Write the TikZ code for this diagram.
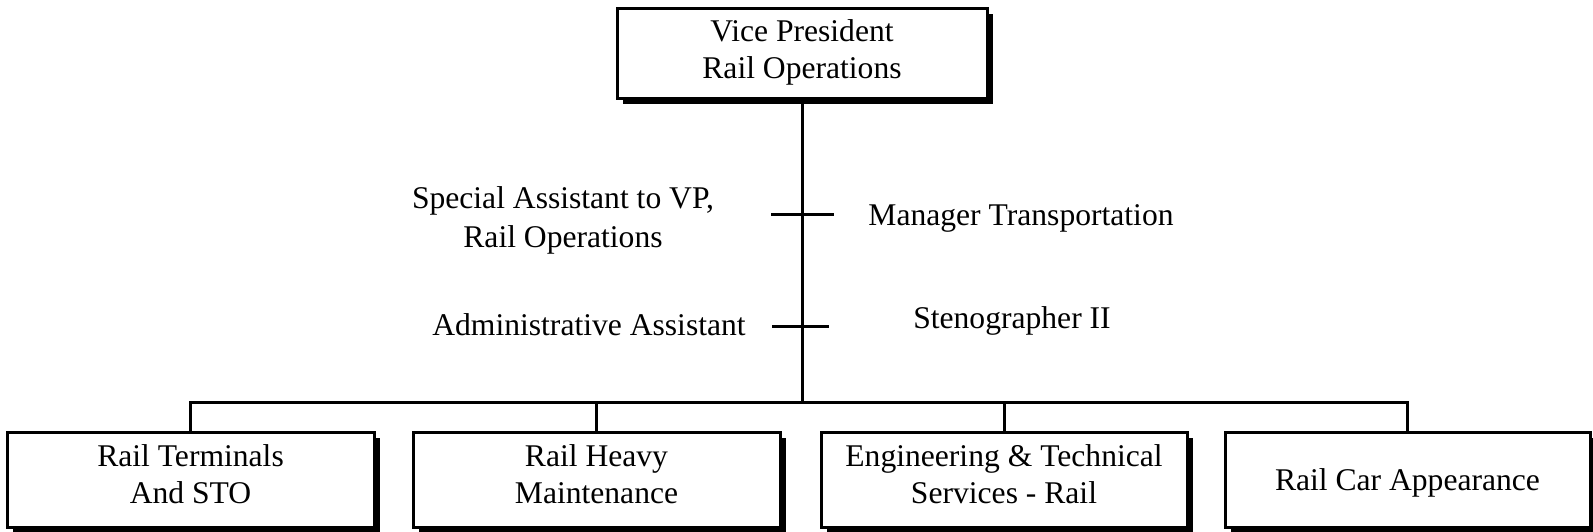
\documentclass[tikz,border=0pt]{standalone}
\usepackage{fontspec}
\setmainfont{Liberation Serif}
\usetikzlibrary{shadows}
\begin{document}
\begin{tikzpicture}[x=1pt,y=-1pt,
  line width=3pt,
  every node/.style={font=\fontsize{31.6}{37.5}\selectfont},
  orgbox/.style={draw, fill=white, inner sep=0pt, align=flush center,
    general shadow={fill=black, shadow xshift=6pt, shadow yshift=-6pt}},
  lbl/.style={inner sep=0pt, anchor=base}]
\useasboundingbox (0,0) rectangle (1593,531);
% boxes
\node[orgbox, text width=370pt, text height=33pt, text depth=57pt] (vp) at (802,53) {Vice President\\Rail Operations};
\node[orgbox, text width=367pt, text height=34pt, text depth=61pt] (b1) at (190.5,479.5) {Rail Terminals\\And STO};
\node[orgbox, text width=367pt, text height=34pt, text depth=61pt] (b2) at (596.5,479.5) {Rail Heavy\\Maintenance};
\node[orgbox, text width=366pt, text height=34pt, text depth=61pt] (b3) at (1004,479.5) {Engineering \& Technical\\Services - Rail};
\node[orgbox, text width=365pt, text height=58pt, text depth=37pt] (b4) at (1407.5,479.5) {Rail Car Appearance};
% staff labels
\node[lbl, text width=330pt, align=flush center, font=\fontsize{31.6}{39}\selectfont] (sa) at (563,208) {Special Assistant to VP,\\Rail Operations};
\node[lbl] (aa) at (589,335) {Administrative Assistant};
\node[lbl] (mt) at (1021,225) {Manager Transportation};
\node[lbl] (st) at (1012,328) {Stenographer II};
% connectors
\coordinate (bus) at (802,402);
\draw (vp.south) -- (bus);
\draw (b1.north) |- (bus) -| (b4.north);
\draw (b2.north) -- (b2.north |- bus);
\draw (b3.north) -- (b3.north |- bus);
% staff ticks
\coordinate (t1a) at (771,214);
\coordinate (t1b) at (834,214);
\coordinate (t2a) at (772,326);
\coordinate (t2b) at (829,326);
\draw (t1a) -- (t1b);
\draw (t2a) -- (t2b);
\end{tikzpicture}
\end{document}
